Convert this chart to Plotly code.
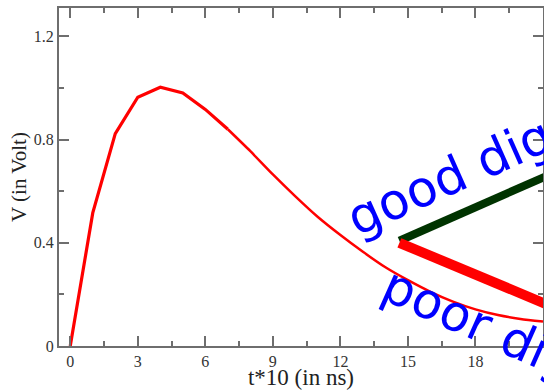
import plotly.graph_objects as go

# ---- data ----
t_values = list(range(22))
v_values = [0, 0.516, 0.823, 0.964, 1.003, 0.981, 0.917, 0.84, 0.755, 0.665,
            0.58, 0.5, 0.43, 0.365, 0.305, 0.255, 0.21, 0.172, 0.142, 0.12,
            0.105, 0.095]
good_x = [14.62, 22.0]
good_y = [0.408, 0.691]
poor_x = [14.62, 22.0]
poor_y = [0.400, 0.131]
x_ticks = [0, 3, 6, 9, 12, 15, 18, 21]
y_ticks = [0, 0.4, 0.8, 1.2]
good_label = "good digitization"
poor_label = "poor digitization"

W, H = 544, 390
ML, MR, MT, MB = 59, 1, 8, 44
PW, PH = W - ML - MR, H - MT - MB


def px(xp):
    return (xp - ML) / PW


def py(yp):
    return (H - MB - yp) / PH


SPLIT = 8
fig = go.Figure()
fig.add_trace(go.Scatter(x=t_values[:SPLIT], y=v_values[:SPLIT], mode="lines",
                         line=dict(color="#ff0000", width=3.2), showlegend=False))
fig.add_trace(go.Scatter(x=t_values[SPLIT - 1:], y=v_values[SPLIT - 1:], mode="lines",
                         line=dict(color="#ff0000", width=2.5, shape="spline", smoothing=0.6),
                         showlegend=False))
fig.add_trace(go.Scatter(x=good_x, y=good_y, mode="lines",
                         line=dict(color="#003300", width=8), showlegend=False))
fig.add_trace(go.Scatter(x=poor_x, y=poor_y, mode="lines",
                         line=dict(color="#ff0000", width=10), showlegend=False))

axis_common = dict(
    showline=True, linecolor="#6e6e6e", linewidth=2, mirror="allticks",
    ticks="inside", ticklen=10, tickwidth=2, tickcolor="#6e6e6e",
    showgrid=False, zeroline=False,
    tickfont=dict(family="Liberation Serif", size=16, color="#333333"),
)

fig.update_xaxes(**axis_common, range=[-0.5, 21], tickvals=x_ticks,
                 minor=dict(dtick=1.5, ticklen=5, tickwidth=2, tickcolor="#6e6e6e", ticks="inside"),
                 title=dict(text="t*10 (in ns)", standoff=7,
                            font=dict(family="Liberation Serif", size=23, color="#222222")))
fig.update_yaxes(**axis_common, range=[0, 1.31], tickvals=y_ticks,
                 tickformat="~g",
                 minor=dict(dtick=0.2, ticklen=5, tickwidth=2, tickcolor="#6e6e6e", ticks="inside"),
                 title=dict(text="V (in Volt)", standoff=1,
                            font=dict(family="Liberation Serif", size=21, color="#222222")))

fig.add_annotation(text=good_label, xref="paper", yref="paper",
                   x=px(336), y=py(250), xanchor="left", yanchor="bottom",
                   textangle=-24, showarrow=False,
                   font=dict(family="DejaVu Sans", size=50, color="#0000ff"))
fig.add_annotation(text=poor_label, xref="paper", yref="paper",
                   x=px(371), y=py(253), xanchor="left", yanchor="top",
                   textangle=24, showarrow=False,
                   font=dict(family="DejaVu Sans", size=50, color="#0000ff"))

fig.update_layout(width=W, height=H, margin=dict(l=ML, r=MR, t=MT, b=MB, autoexpand=False),
                  plot_bgcolor="white", paper_bgcolor="white")

fig.write_html("out.html")
